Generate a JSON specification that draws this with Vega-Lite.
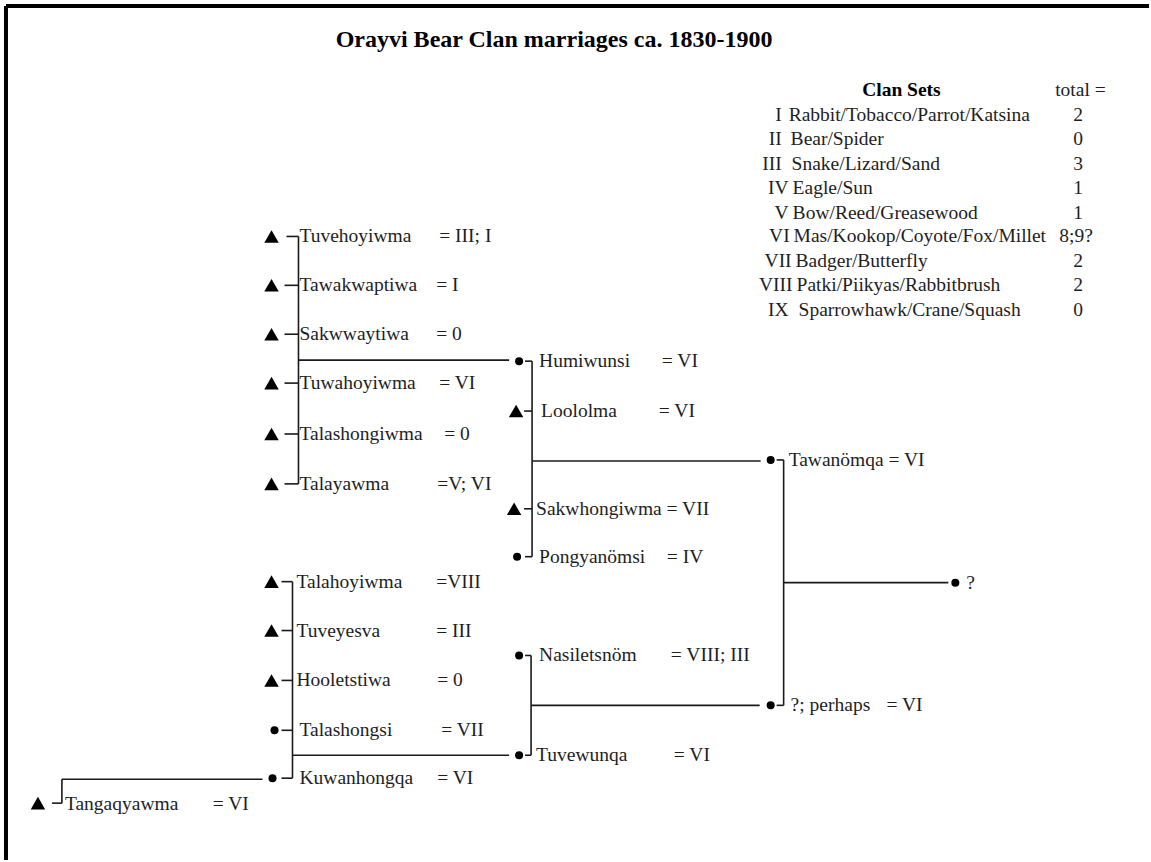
{
  "$schema": "https://vega.github.io/schema/vega-lite/v6.json",
  "width": 1151,
  "height": 862,
  "padding": 0,
  "autosize": {"type": "fit", "contains": "padding"},
  "background": "white",
  "config": {"view": {"stroke": null}},
  "datasets": {
    "frame": [
      {"x": 6, "y": 6, "x2": 1151, "y2": 6},
      {"x": 6, "y": 6, "x2": 6, "y2": 862}
    ],
    "links": [
      {"x": 299, "y": 237, "x2": 299, "y2": 485},
      {"x": 287, "y": 237, "x2": 299, "y2": 237},
      {"x": 285, "y": 286, "x2": 299, "y2": 286},
      {"x": 285, "y": 335, "x2": 299, "y2": 335},
      {"x": 285, "y": 384, "x2": 299, "y2": 384},
      {"x": 285, "y": 435, "x2": 299, "y2": 435},
      {"x": 285, "y": 485, "x2": 299, "y2": 485},
      {"x": 299, "y": 361, "x2": 510, "y2": 361},
      {"x": 293, "y": 583, "x2": 293, "y2": 780},
      {"x": 282, "y": 583, "x2": 293, "y2": 583},
      {"x": 282, "y": 632, "x2": 293, "y2": 632},
      {"x": 282, "y": 682, "x2": 293, "y2": 682},
      {"x": 282, "y": 732, "x2": 293, "y2": 732},
      {"x": 282, "y": 780, "x2": 293, "y2": 780},
      {"x": 293, "y": 757, "x2": 510, "y2": 757},
      {"x": 62, "y": 781, "x2": 263, "y2": 781},
      {"x": 62, "y": 781, "x2": 62, "y2": 805},
      {"x": 52, "y": 805, "x2": 62, "y2": 805},
      {"x": 533, "y": 362, "x2": 533, "y2": 558},
      {"x": 526, "y": 362, "x2": 533, "y2": 362},
      {"x": 525, "y": 412, "x2": 533, "y2": 412},
      {"x": 525, "y": 510, "x2": 533, "y2": 510},
      {"x": 526, "y": 558, "x2": 533, "y2": 558},
      {"x": 533, "y": 462, "x2": 762, "y2": 462},
      {"x": 532, "y": 657, "x2": 532, "y2": 757},
      {"x": 526, "y": 657, "x2": 532, "y2": 657},
      {"x": 526, "y": 757, "x2": 532, "y2": 757},
      {"x": 532, "y": 707, "x2": 761, "y2": 707},
      {"x": 785, "y": 461, "x2": 785, "y2": 707},
      {"x": 778, "y": 461, "x2": 785, "y2": 461},
      {"x": 778, "y": 707, "x2": 785, "y2": 707},
      {"x": 785, "y": 584, "x2": 950, "y2": 584}
    ],
    "people": [
      {"x": 272, "y": 237, "sex": "male"},
      {"x": 272, "y": 286, "sex": "male"},
      {"x": 272, "y": 335, "sex": "male"},
      {"x": 272, "y": 384, "sex": "male"},
      {"x": 272, "y": 435, "sex": "male"},
      {"x": 272, "y": 485, "sex": "male"},
      {"x": 272, "y": 583, "sex": "male"},
      {"x": 272, "y": 632, "sex": "male"},
      {"x": 272, "y": 682, "sex": "male"},
      {"x": 275, "y": 732, "sex": "female"},
      {"x": 273, "y": 780, "sex": "female"},
      {"x": 38, "y": 805, "sex": "male"},
      {"x": 520, "y": 362, "sex": "female"},
      {"x": 517, "y": 412, "sex": "male"},
      {"x": 515, "y": 510, "sex": "male"},
      {"x": 518, "y": 558, "sex": "female"},
      {"x": 520, "y": 657, "sex": "female"},
      {"x": 520, "y": 757, "sex": "female"},
      {"x": 772, "y": 461, "sex": "female"},
      {"x": 772, "y": 707, "sex": "female"},
      {"x": 957, "y": 584, "sex": "female"}
    ],
    "names": [
      {"x": 300, "y": 237, "t": "Tuvehoyiwma"},
      {"x": 440, "y": 237, "t": "= III; I"},
      {"x": 300, "y": 286, "t": "Tawakwaptiwa"},
      {"x": 437, "y": 286, "t": "= I"},
      {"x": 300, "y": 335, "t": "Sakwwaytiwa"},
      {"x": 437, "y": 335, "t": "= 0"},
      {"x": 300, "y": 384, "t": "Tuwahoyiwma"},
      {"x": 440, "y": 384, "t": "= VI"},
      {"x": 300, "y": 435, "t": "Talashongiwma"},
      {"x": 445, "y": 435, "t": "= 0"},
      {"x": 300, "y": 485, "t": "Talayawma"},
      {"x": 438, "y": 485, "t": "=V; VI"},
      {"x": 297, "y": 583, "t": "Talahoyiwma"},
      {"x": 437, "y": 583, "t": "=VIII"},
      {"x": 297, "y": 632, "t": "Tuveyesva"},
      {"x": 437, "y": 632, "t": "= III"},
      {"x": 297, "y": 682, "t": "Hooletstiwa"},
      {"x": 438, "y": 682, "t": "= 0"},
      {"x": 300, "y": 732, "t": "Talashongsi"},
      {"x": 442, "y": 732, "t": "= VII"},
      {"x": 300, "y": 780, "t": "Kuwanhongqa"},
      {"x": 438, "y": 780, "t": "= VI"},
      {"x": 65, "y": 806, "t": "Tangaqyawma"},
      {"x": 213, "y": 806, "t": "= VI"},
      {"x": 540, "y": 362, "t": "Humiwunsi"},
      {"x": 663, "y": 362, "t": "= VI"},
      {"x": 542, "y": 412, "t": "Loololma"},
      {"x": 660, "y": 412, "t": "= VI"},
      {"x": 537, "y": 510, "t": "Sakwhongiwma = VII"},
      {"x": 540, "y": 558, "t": "Pongyanömsi"},
      {"x": 668, "y": 558, "t": "= IV"},
      {"x": 540, "y": 657, "t": "Nasiletsnöm"},
      {"x": 672, "y": 657, "t": "= VIII; III"},
      {"x": 537, "y": 757, "t": "Tuvewunqa"},
      {"x": 675, "y": 757, "t": "= VI"},
      {"x": 790, "y": 461, "t": "Tawanömqa = VI"},
      {"x": 792, "y": 707, "t": "?; perhaps"},
      {"x": 888, "y": 707, "t": "= VI"},
      {"x": 968, "y": 584, "t": "?"},
      {"x": 790, "y": 115, "t": "Rabbit/Tobacco/Parrot/Katsina"},
      {"x": 792, "y": 139, "t": "Bear/Spider"},
      {"x": 793, "y": 164, "t": "Snake/Lizard/Sand"},
      {"x": 794, "y": 188, "t": "Eagle/Sun"},
      {"x": 794, "y": 213, "t": "Bow/Reed/Greasewood"},
      {"x": 795, "y": 237, "t": "Mas/Kookop/Coyote/Fox/Millet"},
      {"x": 797, "y": 262, "t": "Badger/Butterfly"},
      {"x": 798, "y": 286, "t": "Patki/Piikyas/Rabbitbrush"},
      {"x": 800, "y": 311, "t": "Sparrowhawk/Crane/Squash"},
      {"x": 1057, "y": 90, "t": "total ="}
    ],
    "numerals": [
      {"x": 783, "y": 115, "t": "I"},
      {"x": 783, "y": 139, "t": "II"},
      {"x": 783, "y": 164, "t": "III"},
      {"x": 790, "y": 188, "t": "IV"},
      {"x": 790, "y": 213, "t": "V"},
      {"x": 791, "y": 237, "t": "VI"},
      {"x": 793, "y": 262, "t": "VII"},
      {"x": 794, "y": 286, "t": "VIII"},
      {"x": 790, "y": 311, "t": "IX"}
    ],
    "totals": [
      {"x": 1080, "y": 115, "t": "2"},
      {"x": 1080, "y": 139, "t": "0"},
      {"x": 1080, "y": 164, "t": "3"},
      {"x": 1080, "y": 188, "t": "1"},
      {"x": 1080, "y": 213, "t": "1"},
      {"x": 1078, "y": 237, "t": "8;9?"},
      {"x": 1080, "y": 262, "t": "2"},
      {"x": 1080, "y": 286, "t": "2"},
      {"x": 1080, "y": 311, "t": "0"}
    ],
    "title": [
      {"x": 555, "y": 40, "t": "Orayvi Bear Clan marriages ca. 1830-1900"}
    ],
    "header": [
      {"x": 903, "y": 90, "t": "Clan Sets"}
    ]
  },
  "encoding": {
    "x": {"field": "x", "type": "quantitative", "scale": {"domain": [0, 1151], "nice": false, "zero": false}, "axis": null},
    "y": {"field": "y", "type": "quantitative", "scale": {"domain": [0, 862], "reverse": true, "nice": false, "zero": false}, "axis": null}
  },
  "layer": [
    {
      "data": {"name": "frame"},
      "mark": {"type": "rule", "color": "black", "strokeWidth": 4},
      "encoding": {"x2": {"field": "x2"}, "y2": {"field": "y2"}}
    },
    {
      "data": {"name": "links"},
      "mark": {"type": "rule", "color": "#1a1a1a", "strokeWidth": 1.6},
      "encoding": {"x2": {"field": "x2"}, "y2": {"field": "y2"}}
    },
    {
      "data": {"name": "people"},
      "mark": {"type": "point", "filled": true, "color": "black", "opacity": 1},
      "encoding": {
        "shape": {"field": "sex", "type": "nominal", "scale": {"domain": ["male", "female"], "range": ["triangle-up", "circle"]}, "legend": null},
        "size": {"field": "sex", "type": "nominal", "scale": {"domain": ["male", "female"], "range": [210, 64]}, "legend": null}
      }
    },
    {
      "data": {"name": "names"},
      "mark": {"type": "text", "align": "left", "baseline": "middle", "font": "Liberation Serif", "fontSize": 19.5, "color": "#1e1e1e"},
      "encoding": {"text": {"field": "t"}}
    },
    {
      "data": {"name": "numerals"},
      "mark": {"type": "text", "align": "right", "baseline": "middle", "font": "Liberation Serif", "fontSize": 19.5, "color": "#1e1e1e"},
      "encoding": {"text": {"field": "t"}}
    },
    {
      "data": {"name": "totals"},
      "mark": {"type": "text", "align": "center", "baseline": "middle", "font": "Liberation Serif", "fontSize": 19.5, "color": "#1e1e1e"},
      "encoding": {"text": {"field": "t"}}
    },
    {
      "data": {"name": "title"},
      "mark": {"type": "text", "align": "center", "baseline": "middle", "font": "Liberation Serif", "fontWeight": "bold", "fontSize": 24, "color": "black"},
      "encoding": {"text": {"field": "t"}}
    },
    {
      "data": {"name": "header"},
      "mark": {"type": "text", "align": "center", "baseline": "middle", "font": "Liberation Serif", "fontWeight": "bold", "fontSize": 19.5, "color": "black"},
      "encoding": {"text": {"field": "t"}}
    }
  ]
}
